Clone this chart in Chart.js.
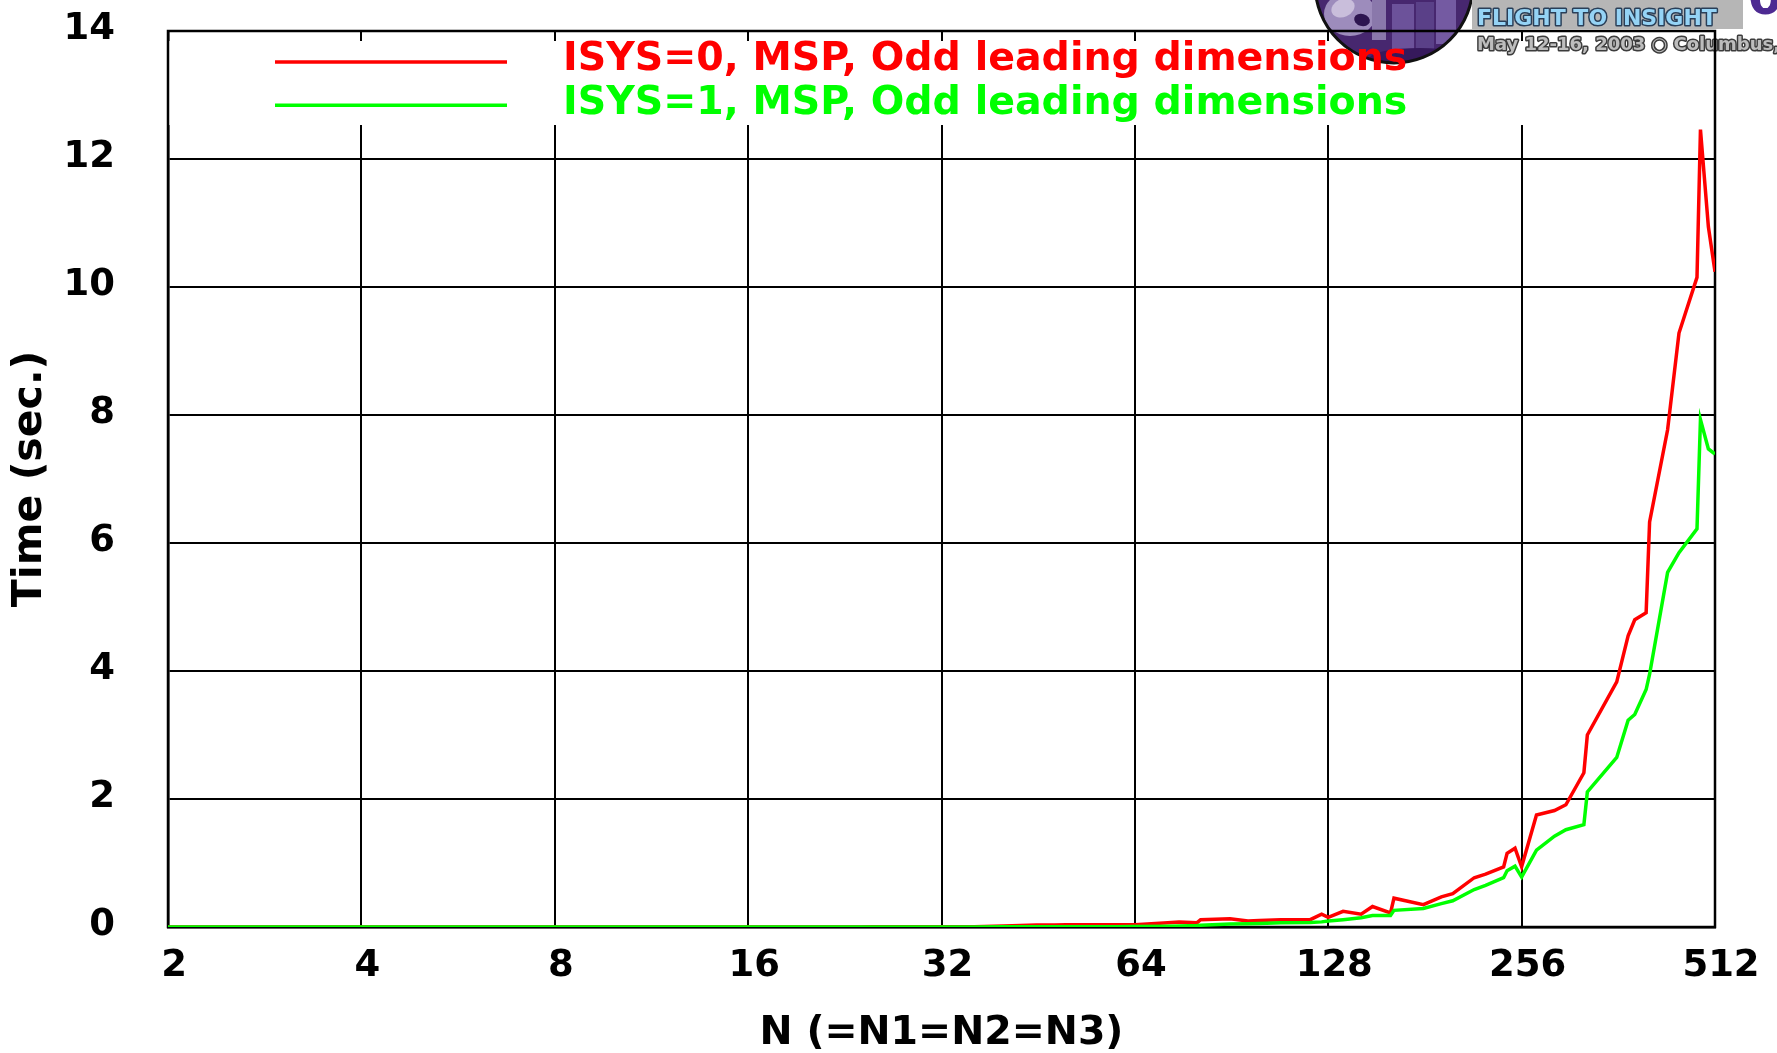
<!DOCTYPE html>
<html>
<head>
<meta charset="utf-8">
<title>FFT timing, ISYS=0 vs ISYS=1</title>
<script src="https://cdn.jsdelivr.net/npm/chart.js@4/dist/chart.umd.min.js"></script>
<style>
  html, body { margin: 0; padding: 0; background: #fff; overflow: hidden; }
  #wrap { width: 1777px; height: 1053px; }
</style>
</head>
<body>
<div id="wrap"><canvas id="c" width="1777" height="1053"></canvas></div>
<script>
// Transform sizes N (=N1=N2=N3), all 2-3-5 smooth
const sizes = [2, 3, 4, 5, 6, 8, 9, 10, 12, 15, 16, 18, 20, 24, 25, 27, 30, 32, 36, 40,
  45, 48, 50, 54, 60, 64, 72, 75, 80, 81, 90, 96, 100, 108, 120, 125, 128, 135, 144, 150,
  160, 162, 180, 192, 200, 216, 225, 240, 243, 250, 256, 270, 288, 300, 320, 324, 360, 375,
  384, 400, 405, 432, 450, 480, 486, 500, 512];

// Time in seconds, ISYS=0
const timeIsys0 = [0, 0, 0, 0, 0, 0, 0, 0, 0, 0, 0, 0.001, 0.001, 0.001, 0.002, 0.002, 0.003, 0.003, 0.005, 0.015,
  0.03, 0.033, 0.034, 0.035, 0.035, 0.036, 0.065, 0.078, 0.068, 0.115, 0.13, 0.094, 0.1, 0.115, 0.115, 0.2, 0.15, 0.245, 0.2, 0.32,
  0.22, 0.45, 0.35, 0.47, 0.52, 0.77, 0.825, 0.94, 1.15, 1.23, 0.94, 1.75, 1.82, 1.91, 2.41, 3.0, 3.83, 4.55,
  4.8, 4.91, 6.33, 7.77, 9.28, 10.15, 12.46, 10.94, 10.24];

// Time in seconds, ISYS=1
const timeIsys1 = [0, 0, 0, 0, 0, 0, 0, 0, 0, 0, 0, 0, 0, 0, 0, 0, 0, 0.001, 0.001, 0.002,
  0.002, 0.003, 0.003, 0.004, 0.005, 0.006, 0.012, 0.016, 0.025, 0.028, 0.045, 0.05, 0.055, 0.065, 0.07, 0.08, 0.095, 0.115, 0.145, 0.18,
  0.18, 0.26, 0.29, 0.365, 0.41, 0.585, 0.65, 0.77, 0.88, 0.95, 0.78, 1.2, 1.42, 1.52, 1.6, 2.11, 2.65, 3.23,
  3.32, 3.71, 3.95, 5.54, 5.85, 6.22, 7.93, 7.47, 7.39];

const seriesLabels = ['ISYS=0, MSP, Odd leading dimensions', 'ISYS=1, MSP, Odd leading dimensions'];
const seriesColors = ['#ff0000', '#00ff00'];
const xTickValues = [2, 4, 8, 16, 32, 64, 128, 256, 512];
const yTickStep = 2;
const yMax = 14;

const FAMILY = '"DejaVu Sans", "Liberation Sans", sans-serif';

// Conference badge in the top-right corner
function drawBadge(ctx) {
  ctx.save();
  const cx = 1394, cy = -16, r = 79;
  ctx.beginPath();
  ctx.arc(cx, cy, r, 0, Math.PI * 2);
  ctx.fillStyle = '#47276f';
  ctx.fill();
  ctx.save();
  ctx.clip();
  // figure on the left of the medallion
  ctx.fillStyle = '#9d8cbc';
  ctx.beginPath();
  ctx.ellipse(1350, 14, 26, 22, 0, 0, Math.PI * 2);
  ctx.fill();
  ctx.fillStyle = '#c9bedb';
  ctx.beginPath();
  ctx.ellipse(1343, 8, 12, 9, -0.4, 0, Math.PI * 2);
  ctx.fill();
  ctx.fillStyle = '#2d1550';
  ctx.beginPath();
  ctx.ellipse(1362, 20, 8, 6, 0.3, 0, Math.PI * 2);
  ctx.fill();
  ctx.fillStyle = '#8a78ab';
  ctx.fillRect(1372, 0, 14, 40);
  // stacked panels on the right
  ctx.fillStyle = '#6c529a';
  ctx.fillRect(1392, 4, 22, 50);
  ctx.fillStyle = '#5a4088';
  ctx.fillRect(1416, 2, 18, 50);
  ctx.fillStyle = '#745aa2';
  ctx.fillRect(1436, 0, 20, 44);
  ctx.fillStyle = '#36195c';
  ctx.beginPath();
  ctx.ellipse(1420, 58, 50, 10, 0, 0, Math.PI * 2);
  ctx.fill();
  ctx.restore();
  ctx.beginPath();
  ctx.arc(cx, cy, r, 0, Math.PI * 2);
  ctx.lineWidth = 3;
  ctx.strokeStyle = '#111';
  ctx.stroke();

  // banner
  ctx.fillStyle = '#b6b6b6';
  ctx.fillRect(1472, 0, 271, 29);
  ctx.font = 'bold 22px ' + FAMILY;
  ctx.textBaseline = 'alphabetic';
  ctx.textAlign = 'left';
  ctx.lineJoin = 'round';
  ctx.lineWidth = 3;
  ctx.strokeStyle = '#2a3f58';
  ctx.strokeText('FLIGHT TO INSIGHT', 1477, 25);
  ctx.fillStyle = '#95d3f5';
  ctx.fillText('FLIGHT TO INSIGHT', 1477, 25);

  // year, cut by the top edge
  ctx.font = 'bold 50px ' + FAMILY;
  ctx.fillStyle = '#4d2a92';
  ctx.fillText('03', 1748, 14);

  // dates line
  ctx.font = 'bold 18px ' + FAMILY;
  ctx.lineWidth = 3;
  ctx.strokeStyle = '#3c3c3c';
  ctx.strokeText('May 12-16, 2003 \u25CB Columbus,', 1477, 50);
  ctx.fillStyle = '#bdbdbd';
  ctx.fillText('May 12-16, 2003 \u25CB Columbus,', 1477, 50);
  ctx.restore();
}

const framePlugin = {
  id: 'frame',
  beforeDraw(chart) {
    drawBadge(chart.ctx);
  },
  beforeDatasetsDraw(chart) {
    const { ctx, chartArea: a } = chart;
    // grid lines stop short of the key
    ctx.save();
    ctx.beginPath();
    ctx.rect(a.left + 1, a.top + 10, a.right - a.left - 2, 84);
    ctx.clip();
    ctx.fillStyle = '#fff';
    ctx.fillRect(a.left, a.top, a.right - a.left, 100);
    drawBadge(ctx);
    ctx.restore();
    // plot frame
    ctx.save();
    ctx.strokeStyle = '#000';
    ctx.lineWidth = 2.5;
    ctx.strokeRect(a.left, a.top, a.right - a.left, a.bottom - a.top);
    ctx.restore();
  },
  afterDatasetsDraw(chart) {
    const { ctx } = chart;
    ctx.save();
    ctx.font = 'bold 39.5px ' + FAMILY;
    ctx.textAlign = 'left';
    ctx.textBaseline = 'alphabetic';
    chart.data.datasets.forEach((ds, i) => {
      const rowY = 62 + i * 43.3;
      ctx.strokeStyle = ds.borderColor;
      ctx.lineWidth = 3.5;
      ctx.beginPath();
      ctx.moveTo(275, rowY);
      ctx.lineTo(507, rowY);
      ctx.stroke();
      ctx.fillStyle = ds.borderColor;
      ctx.fillText(ds.label, 563, rowY + 8.3);
    });
    ctx.restore();
  }
};

const tickFont = { family: FAMILY, size: 37, weight: 'bold' };

new Chart(document.getElementById('c'), {
  type: 'line',
  data: {
    datasets: [
      {
        label: seriesLabels[0],
        data: sizes.map((n, i) => ({ x: n, y: timeIsys0[i] })),
        borderColor: seriesColors[0],
        backgroundColor: seriesColors[0],
        borderWidth: 3.5,
        pointRadius: 0,
        tension: 0,
        order: 1
      },
      {
        label: seriesLabels[1],
        data: sizes.map((n, i) => ({ x: n, y: timeIsys1[i] })),
        borderColor: seriesColors[1],
        backgroundColor: seriesColors[1],
        borderWidth: 3.5,
        pointRadius: 0,
        tension: 0,
        order: 0
      }
    ]
  },
  options: {
    responsive: false,
    animation: false,
    devicePixelRatio: 1,
    layout: { padding: { top: 31, right: 62, left: 0, bottom: 0 } },
    plugins: { legend: { display: false }, tooltip: { enabled: false } },
    scales: {
      x: {
        type: 'logarithmic',
        min: 2,
        max: 512,
        afterBuildTicks: s => { s.ticks = xTickValues.map(v => ({ value: v })); },
        afterFit: s => { s.height = 126; s.paddingLeft = 0; s.paddingRight = 0; },
        grid: { color: '#000', lineWidth: 2, drawTicks: false },
        border: { display: true, color: '#000', width: 2.5 },
        ticks: {
          font: tickFont, color: '#000', padding: 17, labelOffset: 6,
          maxRotation: 0, autoSkip: false, callback: v => String(v)
        },
        title: {
          display: true, text: 'N (=N1=N2=N3)', color: '#000',
          font: { family: FAMILY, size: 39.5, weight: 'bold', lineHeight: 1.0 },
          padding: { top: 0, bottom: 0 }
        }
      },
      y: {
        min: 0,
        max: yMax,
        afterFit: s => { s.width = 168; s.paddingTop = 0; s.paddingBottom = 0; },
        grid: { color: '#000', lineWidth: 2, drawTicks: false },
        border: { display: true, color: '#000', width: 2.5 },
        ticks: { stepSize: yTickStep, font: tickFont, color: '#000', padding: 53, labelOffset: -2 },
        title: {
          display: true, text: 'Time (sec.)', color: '#000',
          font: { family: FAMILY, size: 41, weight: 'bold', lineHeight: 1.2 },
          padding: { top: 6, bottom: 0 }
        }
      }
    }
  },
  plugins: [framePlugin]
});
</script>
</body>
</html>
